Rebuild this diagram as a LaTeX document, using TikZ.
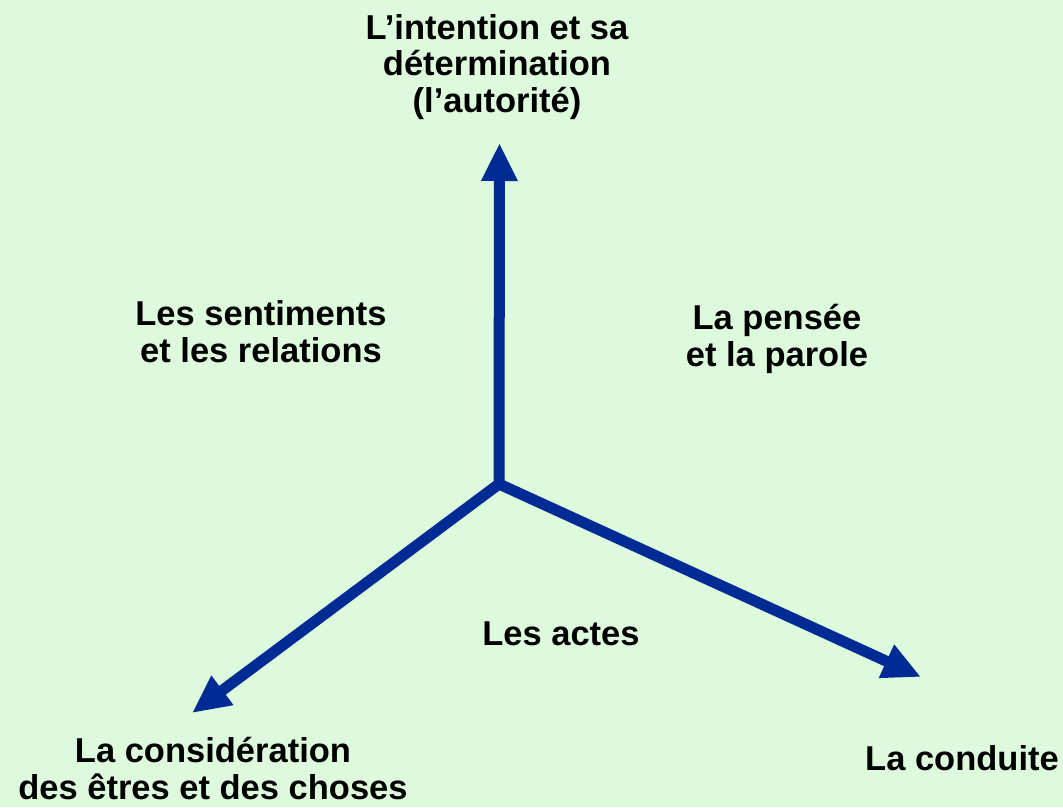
\documentclass[tikz,border=0pt]{standalone}
\usepackage{fontspec}
\setmainfont{Liberation Sans}
\usetikzlibrary{arrows.meta}
\definecolor{bg}{RGB}{222,250,220}
\definecolor{arrowblue}{RGB}{0,42,148}
\tikzset{
  lbl/.style={font=\bfseries\fontsize{34.5}{36.5}\selectfont, align=center, inner sep=0pt, anchor=base, text=black},
  axis/.style={draw=arrowblue, line width=11pt, line join=miter,
    -{Triangle[length=38pt,width=34pt]}},
  axis2/.style={draw=arrowblue, line width=11pt, line join=miter,
    {Triangle[length=38pt,width=34pt]}-{Triangle[length=38pt,width=34pt]}}
}
\begin{document}
\begin{tikzpicture}[x=1pt,y=-1pt]
\fill[bg] (0,0) rectangle (1063,807);
\useasboundingbox (0,0) rectangle (1063,807);
\coordinate (c) at (499,484);
\coordinate (top) at (499.5,143);
\coordinate (left) at (192,713);
\coordinate (right) at (921,677);
\draw[axis] (c) -- (top);
\draw[axis2] (left) -- (c) -- (right);
\node[lbl] (intention) at (497,112) {L’intention et sa\\détermination\\(l’autorité)};
\node[lbl] (sentiments) at (261,362) {Les sentiments\\et les relations};
\node[lbl] (pensee) at (777,366) {La pensée\\et la parole};
\node[lbl] (actes) at (561,645) {Les actes};
\node[lbl] (consideration) at (213,799) {La considération\\des êtres et des choses};
\node[lbl] (conduite) at (962,770) {La conduite};
\end{tikzpicture}
\end{document}
